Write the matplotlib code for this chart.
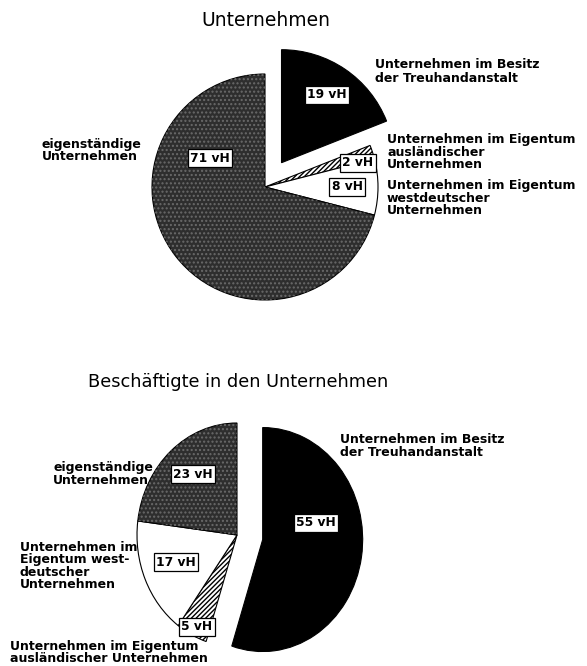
import matplotlib
matplotlib.use("Agg")
import matplotlib.pyplot as plt

W, H = 587, 666

# order: Treuhand, ausländisch, westdeutsch, eigenständig (clockwise from top)
firms_share = [19, 2, 8, 71]
staff_share = [55, 5, 17, 23]
pct_labels_firms = ["19 vH", "2 vH", "8 vH", "71 vH"]
pct_labels_staff = ["55 vH", "5 vH", "17 vH", "23 vH"]

faces = ["black", "white", "white", "#2e2e2e"]
hatches = [None, "///////", None, None]
explode = [0.26, 0, 0, 0]

plt.rcParams['font.family'] = ['DejaVu Sans']


def fx(x):
    return x / W


def fy(y):
    return 1 - y / H


def draw_pie(cx, cy, rx, ry, hw, hh, values):
    ax = fig.add_axes([(cx - hw * rx) / W, (H - cy - hh * ry) / H,
                       2 * hw * rx / W, 2 * hh * ry / H])
    wedges, _ = ax.pie(values, startangle=90, counterclock=False,
                       explode=explode, colors=faces,
                       wedgeprops=dict(edgecolor="black", linewidth=0.8))
    for w, h in zip(wedges, hatches):
        if h:
            w.set_hatch(h)
    # stipple on the grey slice
    g = wedges[3]
    ax.add_patch(matplotlib.patches.Wedge(g.center, g.r, g.theta1, g.theta2,
                                          facecolor="none", edgecolor="#6a6a6a",
                                          hatch="....", linewidth=0))
    # pie() forces equal aspect and its own limits; undo that
    ax.set_aspect("auto")
    ax.set_xlim(-hw, hw)
    ax.set_ylim(-hh, hh)
    ax.axis("off")
    return ax


fig = plt.figure(figsize=(W / 100, H / 100), dpi=100)

# top pie
ax1 = draw_pie(265, 187, 113, 113, 1.5, 1.45, firms_share)
# bottom pie (slightly oval in the source)
ax2 = draw_pie(237, 535, 100, 112, 1.6, 1.3, staff_share)

# titles
fig.text(fx(266), fy(21), "Unternehmen", ha="center", va="center", fontsize=13.5)
fig.text(fx(238), fy(382), "Beschäftigte in den Unternehmen", ha="center",
         va="center", fontsize=12.8)

lab = dict(fontsize=9, fontweight="bold", linespacing=0.95, va="top", ha="left")
fig.text(fx(375), fy(58), "Unternehmen im Besitz\nder Treuhandanstalt",
         **{**lab, "linespacing": 1.15})
fig.text(fx(387), fy(133), "Unternehmen im Eigentum\nausländischer\nUnternehmen", **lab)
fig.text(fx(387), fy(179), "Unternehmen im Eigentum\nwestdeutscher\nUnternehmen", **lab)
fig.text(fx(42), fy(138), "eigenständige\nUnternehmen", **lab)

fig.text(fx(340), fy(433), "Unternehmen im Besitz\nder Treuhandanstalt", **lab)
fig.text(fx(53), fy(461), "eigenständige\nUnternehmen", **lab)
fig.text(fx(20), fy(541), "Unternehmen im\nEigentum west-\ndeutscher\nUnternehmen", **lab)
fig.text(fx(10), fy(640), "Unternehmen im Eigentum\nausländischer Unternehmen", **lab)

box = dict(boxstyle="square,pad=0.2", facecolor="white", edgecolor="black",
           linewidth=0.9)
pos_top = [(327, 95), (358, 163), (347, 187), (210, 158)]
pos_bot = [(316, 523), (197, 627), (176, 562), (193, 474)]
for (x, y), t in zip(pos_top, pct_labels_firms):
    fig.text(fx(x), fy(y), t, ha="center", va="center", fontsize=8.8,
             fontweight="bold", bbox=box)
for (x, y), t in zip(pos_bot, pct_labels_staff):
    fig.text(fx(x), fy(y), t, ha="center", va="center", fontsize=8.8,
             fontweight="bold", bbox=box)

fig.savefig("out.png", dpi=100)
